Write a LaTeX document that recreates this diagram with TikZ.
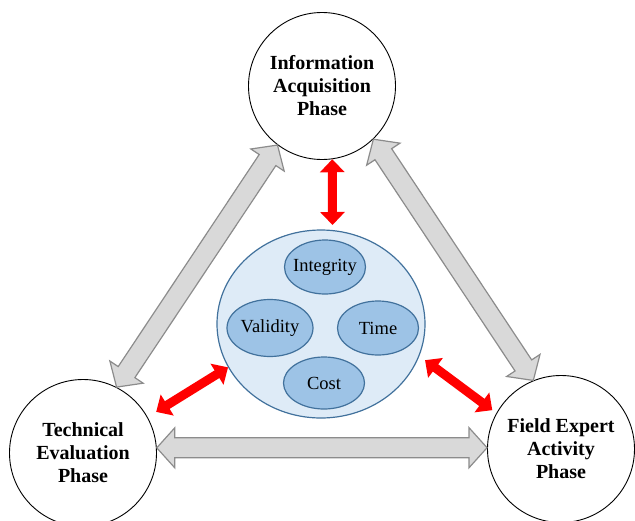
\documentclass[tikz,border=0pt]{standalone}
\usepackage{fontspec}
\setmainfont{Liberation Serif}
\usetikzlibrary{shapes.geometric,arrows.meta,calc}

\definecolor{corefill}{HTML}{DEEBF7}
\definecolor{coreline}{HTML}{41719C}
\definecolor{itemfill}{HTML}{9DC3E6}
\definecolor{linkfill}{HTML}{D9D9D9}
\definecolor{linkline}{HTML}{8C8C8C}

% wide grey arrow with a head at both ends
\newcommand{\biarrow}[2]{%
  \draw[phaselink] (#1)
    -- ($(#1)!18pt!(#2)!20pt!90:(#2)$)
    -- ($(#1)!18pt!(#2)!10pt!90:(#2)$)
    -- ($(#2)!18pt!(#1)!10pt!-90:(#1)$)
    -- ($(#2)!18pt!(#1)!20pt!-90:(#1)$)
    -- (#2)
    -- ($(#2)!18pt!(#1)!20pt!90:(#1)$)
    -- ($(#2)!18pt!(#1)!10pt!90:(#1)$)
    -- ($(#1)!18pt!(#2)!10pt!-90:(#2)$)
    -- ($(#1)!18pt!(#2)!20pt!-90:(#2)$)
    -- cycle;}

\begin{document}
\begin{tikzpicture}[x=1pt,y=-1pt,
    phase/.style={circle,draw,fill=white,line width=0.9pt,minimum size=147pt,
      inner sep=0pt,align=center,font=\bfseries\fontsize{20}{23}\selectfont},
    core/.style={ellipse,draw=coreline,fill=corefill,line width=1.2pt,
      minimum width=208pt,minimum height=188pt},
    item/.style={ellipse,draw=coreline,fill=itemfill,line width=1.2pt,
      minimum width=81pt,minimum height=54pt,inner xsep=-6pt,inner ysep=0pt,
      font=\fontsize{18.5}{20}\selectfont},
    phaselink/.style={draw=linkline,fill=linkfill,line width=1.2pt,line join=miter},
    redlink/.style={draw=red,line width=9pt,>={Triangle[length=13pt,width=24pt]},<->}]
  \useasboundingbox (0,0) rectangle (635,520);
  \clip (0,0) rectangle (635,520);

  % the three phases
  \node[phase] (acq) at (322,86) {Information\\Acquisition\\Phase};
  \node[phase] (tech) at (83,453) {Technical\\Evaluation\\Phase};
  \node[phase] (field) at (561,449) {Field Expert\\Activity\\Phase};

  % criteria in the middle
  \node[core] (core) at (321,324) {};
  \node[item] (integrity) at (325,267) {Integrity};
  \node[item,minimum width=86pt,minimum height=57pt] (validity) at (270,328) {Validity};
  \node[item] (time) at (378,328) {Time};
  \node[item,minimum height=52pt] (cost) at (324,383) {Cost};

  \biarrow{tech.63}{acq.233}
  \biarrow{acq.-46}{field.112}
  \biarrow{tech.4}{field.179}

  \draw[redlink,shorten >=5pt] (acq.-82) -- (core.83);
  \draw[redlink,shorten <=10pt] (tech.29) -- (core.205);
  \draw[redlink,shorten <=7pt,shorten >=5pt] (core.-18) -- (field.151);
\end{tikzpicture}
\end{document}
